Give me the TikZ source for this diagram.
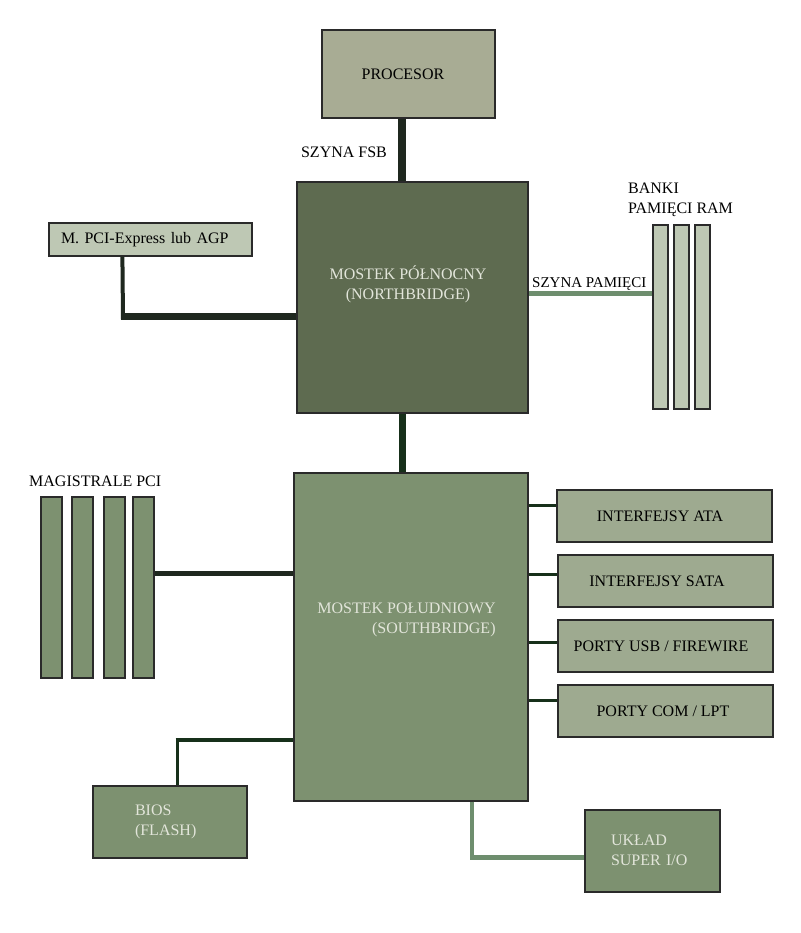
\documentclass[tikz,border=0pt]{standalone}
\usepackage{fontspec}
\setmainfont{Liberation Serif}
\begin{document}
\begin{tikzpicture}[x=1pt,y=-1pt,
  box/.style={draw=bordc,line width=1.2pt,rectangle,inner sep=0pt,font=\fontsize{16}{20}\selectfont},
  darkbus/.style={draw=busdark,line cap=butt},
  greenbus/.style={draw=busgreen,line cap=butt},
  lbl/.style={font=\fontsize{16}{20}\selectfont,inner sep=0pt}]
\definecolor{bordc}{HTML}{2A2A2A}
\definecolor{procc}{HTML}{A8AC94}
\definecolor{nbc}{HTML}{5E6B50}
\definecolor{lightc}{HTML}{BEC8B4}
\definecolor{sbc}{HTML}{7D9170}
\definecolor{ifc}{HTML}{9EAA90}
\definecolor{busdark}{HTML}{1F281F}
\definecolor{busdeep}{HTML}{17301A}
\definecolor{busgreen}{HTML}{6E8E6E}
\definecolor{lighttext}{HTML}{E2E5DA}
\useasboundingbox[fill=white] (0,0) rectangle (800,933);

% nodes
\node[box,fill=procc,minimum width=173pt,minimum height=88pt] (proc) at (408.5,74) {\raisebox{-2.5pt}{\hspace*{-11pt}PROCESOR}};
\node[box,fill=nbc,minimum width=231pt,minimum height=231pt] (nb) at (412.5,297.5) {};
\node[lbl,text=lighttext,align=center] (nbtext) at (408,284) {MOSTEK PÓŁNOCNY\\(NORTHBRIDGE)};
\node[box,fill=lightc,minimum width=203pt,minimum height=33pt,inner xsep=12pt,text width=179pt,align=left] (agp) at (150.5,239.5) {M. PCI-Express lub AGP};
\node[box,fill=lightc,minimum width=15pt,minimum height=184pt] (ram1) at (660.5,317) {};
\node[box,fill=lightc,minimum width=15pt,minimum height=184pt] (ram2) at (681.5,317) {};
\node[box,fill=lightc,minimum width=15pt,minimum height=184pt] (ram3) at (702.5,317) {};
\node[lbl,anchor=base west,align=left] (banki) at (628,214) {BANKI\\PAMIĘCI RAM};
\node[lbl,anchor=base] (fsbl) at (344,158) {SZYNA FSB};
\node[lbl,anchor=base west,font=\fontsize{15}{18}\selectfont] (meml) at (532,287) {SZYNA PAMIĘCI};

\node[box,fill=sbc,minimum width=234pt,minimum height=328pt] (sb) at (411,637) {};
\node[lbl,text=lighttext,align=right] (sbtext) at (406.5,620) {MOSTEK POŁUDNIOWY\\(SOUTHBRIDGE)};

\node[lbl,anchor=base west] (pcil) at (29,486.5) {MAGISTRALE PCI};
\node[box,fill=sbc,minimum width=21pt,minimum height=181pt] (pci1) at (51.5,587.5) {};
\node[box,fill=sbc,minimum width=21pt,minimum height=181pt] (pci2) at (82.5,587.5) {};
\node[box,fill=sbc,minimum width=21pt,minimum height=181pt] (pci3) at (114.5,587.5) {};
\node[box,fill=sbc,minimum width=21pt,minimum height=181pt] (pci4) at (143.5,587.5) {};

\node[box,fill=ifc,minimum width=215pt,minimum height=52pt] (ata) at (664.5,516) {\hspace*{-9pt}INTERFEJSY ATA};
\node[box,fill=ifc,minimum width=215pt,minimum height=52pt] (sata) at (665.5,581) {\hspace*{-17pt}INTERFEJSY SATA};
\node[box,fill=ifc,minimum width=215pt,minimum height=52pt] (usb) at (665.5,646) {\hspace*{-9pt}PORTY USB / FIREWIRE};
\node[box,fill=ifc,minimum width=215pt,minimum height=52pt] (com) at (665.5,711) {\hspace*{-5pt}PORTY COM / LPT};

\node[box,fill=sbc,minimum width=154pt,minimum height=72pt,inner xsep=42pt,text width=70pt,align=left,text=lighttext] (bios) at (170,822) {BIOS\\(FLASH)};
\node[box,fill=sbc,minimum width=135pt,minimum height=82pt,inner xsep=26pt,text width=83pt,align=left,text=lighttext] (sio) at (652.5,851) {\raisebox{2pt}{UKŁAD}\\\raisebox{2pt}{SUPER I/O}};

% connectors
\draw[darkbus,line width=8pt] ([xshift=-6.5pt]proc.south) -- ([xshift=-6.5pt]proc.south |- nb.north);
\coordinate (agpcorner) at (123,316);
\draw[darkbus,line width=4pt] ([xshift=74pt]agp.south west) -- ([yshift=-3.5pt]agpcorner);
\draw[darkbus,line width=7pt] ([xshift=-2pt]agpcorner) -- (agpcorner -| nb.west);
\draw[greenbus,line width=5pt] ([yshift=4.5pt]nb.east) -- ([yshift=4.5pt]nb.east -| ram1.west);
\draw[draw=busdeep,line width=7pt] ([xshift=-10.5pt]nb.south) -- ([xshift=-10.5pt]nb.south |- sb.north);
\draw[darkbus,line width=5pt] ([yshift=14.5pt]pci4.east) -- ([yshift=14.5pt]pci4.east -| sb.west);
\draw[draw=busdeep,line width=3pt] ([yshift=11pt]ata.west) -- ([yshift=11pt]ata.west -| sb.east);
\draw[draw=busdeep,line width=3pt] ([yshift=7pt]sata.west) -- ([yshift=7pt]sata.west -| sb.east);
\draw[draw=busdeep,line width=3pt] ([yshift=4pt]usb.west) -- ([yshift=4pt]usb.west -| sb.east);
\draw[draw=busdeep,line width=3pt] ([yshift=11pt]com.west) -- ([yshift=11pt]com.west -| sb.east);
\coordinate (bioscorner) at (177,740);
\draw[draw=busdeep,line width=3pt] ([xshift=7pt]bios.north) -- ([yshift=2pt]bioscorner);
\draw[draw=busdeep,line width=4pt] ([xshift=-1.5pt]bioscorner) -- (bioscorner -| sb.west);
\coordinate (siocorner) at (472,857);
\draw[greenbus,line width=4pt] (siocorner |- sb.south) -- ([yshift=-2.5pt]siocorner);
\draw[greenbus,line width=5pt] ([xshift=-2pt]siocorner) -- (siocorner -| sio.west);
\end{tikzpicture}
\end{document}
